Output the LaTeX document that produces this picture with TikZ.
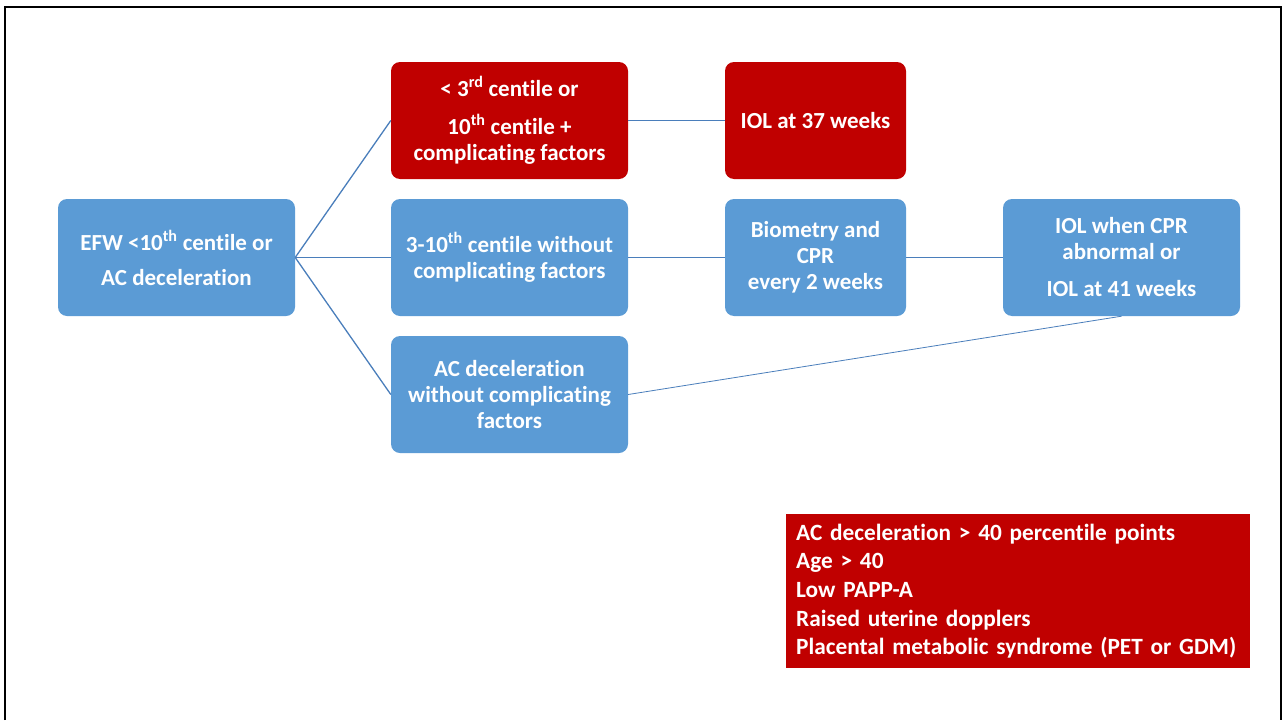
\documentclass[tikz,border=0pt]{standalone}
\usepackage{fontspec}
\setmainfont{Carlito}[Ligatures=NoCommon]
\usetikzlibrary{positioning}
\definecolor{boxblue}{HTML}{5B9BD5}
\definecolor{boxred}{HTML}{C00000}
\definecolor{linkblue}{HTML}{4A7EBB}
\newcommand{\sups}[1]{\textsuperscript{#1}}
\tikzset{
  box/.style={rounded corners=9pt, minimum width=237pt, minimum height=117pt,
    inner sep=0pt, text=white, align=center,
    font=\bfseries\fontsize{23}{26}\selectfont},
  bluebox/.style={box, fill=boxblue},
  redbox/.style={box, fill=boxred},
  link/.style={draw=linkblue, line width=1.3pt},
}
\begin{document}
\begin{tikzpicture}[x=1pt,y=-1pt]
\useasboundingbox (0,0) rectangle (1282,720);
% slide frame
\draw[line width=2.5pt] (5,720) -- (5,6.5);
\draw[line width=2pt] (4,6.5) -- (1281.5,6.5);
\draw[line width=1.2pt] (1281,6) -- (1281,720);
%
\node[bluebox] at (176.5,257.5) (efw) {EFW <10\sups{th} centile or\\[9pt]AC deceleration};
\node[redbox] at (509.5,120.5) (small) {< 3\sups{rd} centile or\\[12pt]10\sups{th} centile +\\complicating factors};
\node[bluebox] at (509.5,257.5) (mid) {3-10\sups{th} centile without\\complicating factors};
\node[bluebox] at (509.5,394.5) (acdec) {AC deceleration\\without complicating\\factors};
\node[redbox, minimum width=181pt] at (815.5,120.5) (iol37) {IOL at 37 weeks};
\node[bluebox, minimum width=181pt] at (815.5,257.5) (bio) {Biometry and\\CPR\\every 2 weeks};
\node[bluebox] at (1121.5,257.5) (iolcpr) {IOL when CPR\\abnormal or\\[11pt]IOL at 41 weeks};
%
\draw[link] (efw.east) -- (small.west);
\draw[link] (efw.east) -- (mid.west);
\draw[link] (efw.east) -- (acdec.west);
\draw[link] (small.east) -- (iol37.west);
\draw[link] (mid.east) -- (bio.west);
\draw[link] (bio.east) -- (iolcpr.west);
\draw[link, line width=0.8pt] (acdec.east) -- (iolcpr.south);
%
\node[fill=boxred, anchor=north west, minimum width=464pt, minimum height=154pt,
  text width=444pt, inner xsep=10pt, inner ysep=0pt, align=left, text=white,
  font=\bfseries\fontsize{23.3}{28.7}\selectfont] at (786,514) (factors)
  {AC deceleration > 40 percentile points\\Age > 40\\Low PAPP-A\\Raised uterine dopplers\\Placental metabolic syndrome (PET or GDM)};
\end{tikzpicture}
\end{document}
